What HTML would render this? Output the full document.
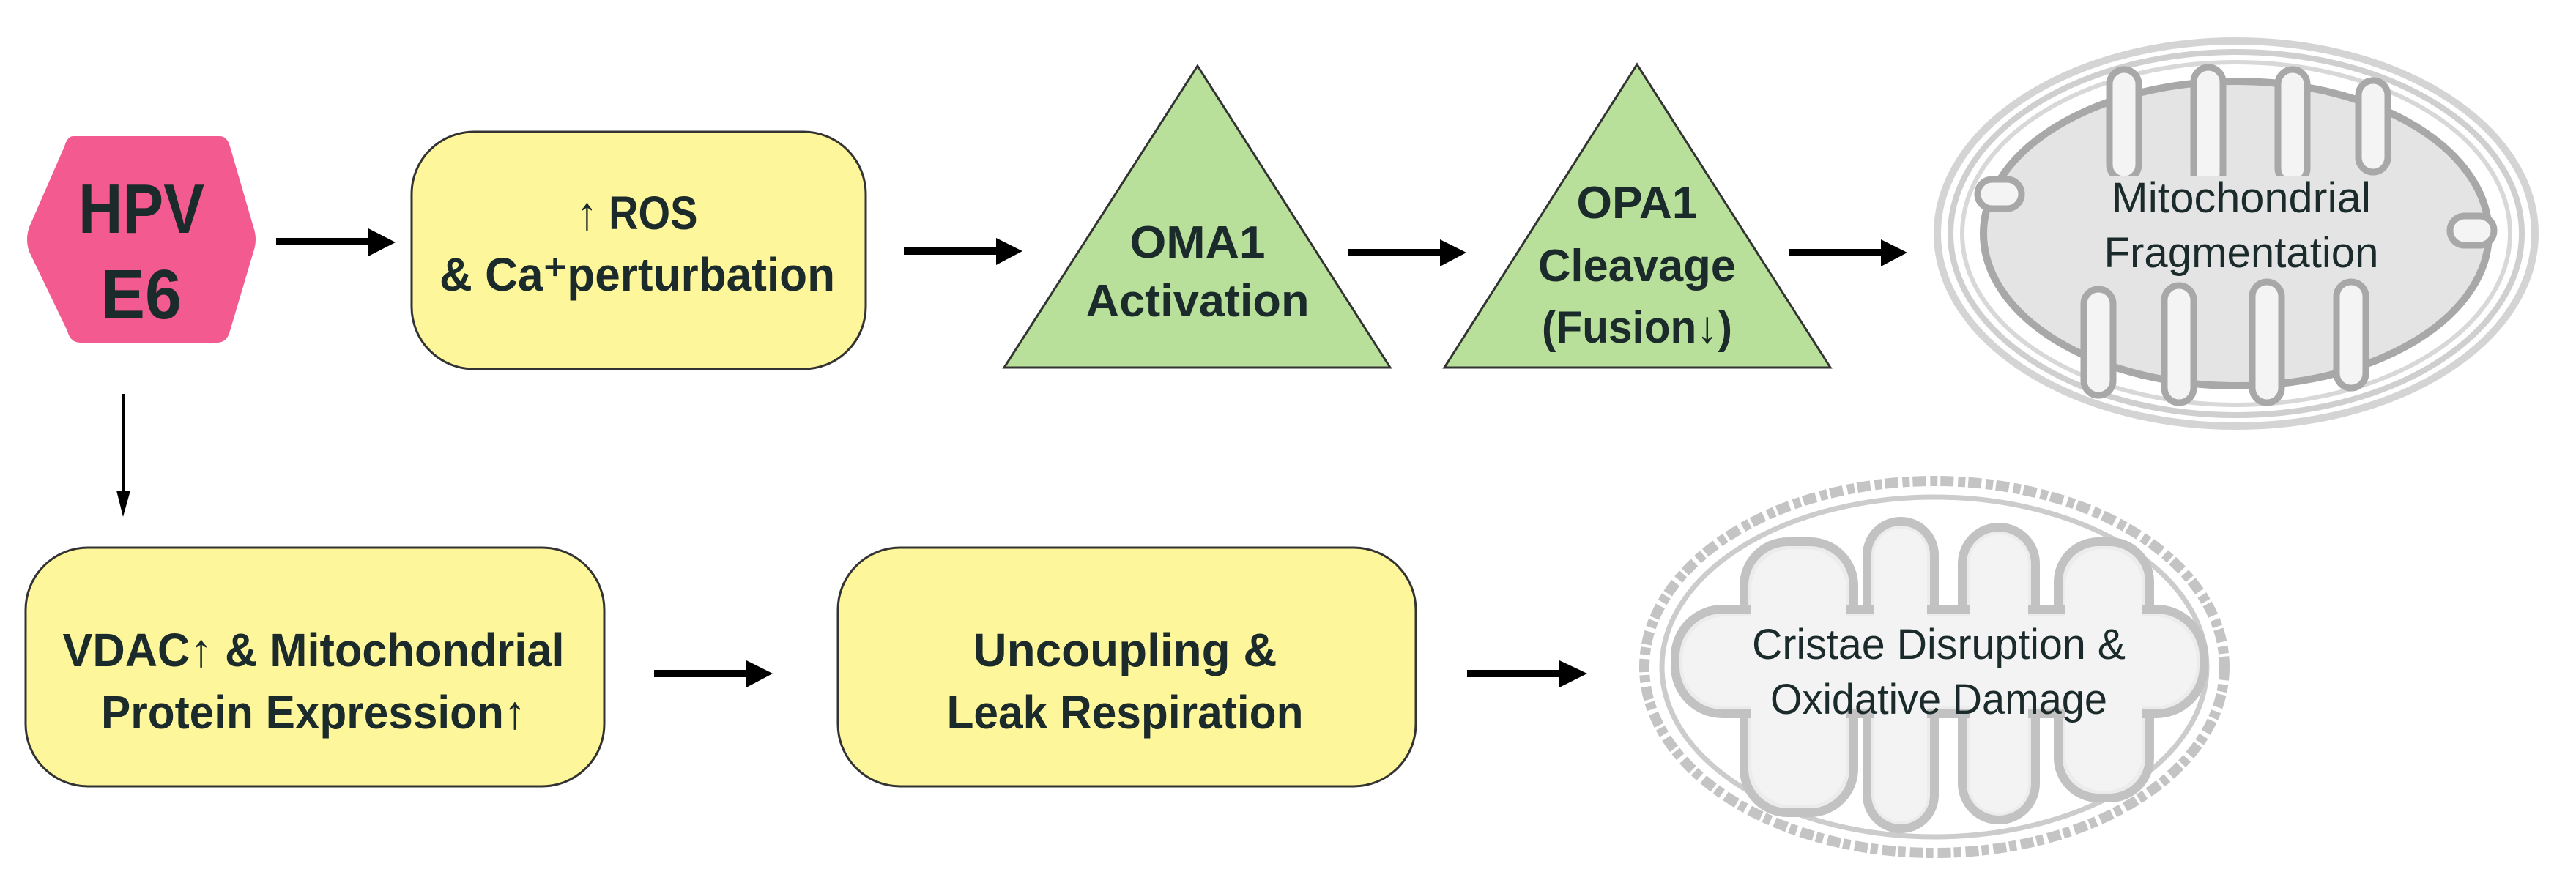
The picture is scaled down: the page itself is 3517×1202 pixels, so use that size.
<!DOCTYPE html>
<html><head><meta charset="utf-8"><style>
html,body{margin:0;padding:0;background:#fff;}
body{width:3517px;height:1197px;overflow:hidden;}
text{font-family:"Liberation Sans",sans-serif;fill:#1b2a2a;}
</style></head><body>
<svg width="3517" height="1197" viewBox="0 0 3517 1197" xmlns="http://www.w3.org/2000/svg">
<!-- hexagon -->
<path d="M100,186 L300,186 Q310,186 314,200 L346,310 Q352,327 346,344 L314,452 Q310,468 296,468 L110,468 Q96,468 92,452 L40,344 Q34,327 40,310 L88,200 Q92,186 100,186 Z" fill="#f25a90"/>
<text x="193" y="318" font-size="96" font-weight="bold" text-anchor="middle" textLength="172" lengthAdjust="spacingAndGlyphs">HPV</text>
<text x="193" y="435" font-size="96" font-weight="bold" text-anchor="middle" textLength="110" lengthAdjust="spacingAndGlyphs">E6</text>
<!-- top row boxes -->
<rect x="562" y="180" width="620" height="324" rx="85" fill="#fef69a" stroke="#333" stroke-width="3"/>
<text x="870" y="313" font-size="64" font-weight="bold" text-anchor="middle" textLength="165" lengthAdjust="spacingAndGlyphs">↑ ROS</text>
<text x="870" y="397" font-size="64" font-weight="bold" text-anchor="middle" textLength="540" lengthAdjust="spacingAndGlyphs">&amp; Ca⁺perturbation</text>
<!-- arrows -->
<g fill="#000">
<rect x="377" y="325" width="128" height="10"/><polygon points="503,312 540,331 503,350"/>
<rect x="1234" y="338" width="128" height="10"/><polygon points="1360,325 1396,343 1360,362"/>
<rect x="1840" y="340" width="128" height="10"/><polygon points="1966,327 2002,345 1966,364"/>
<rect x="2442" y="340" width="128" height="10"/><polygon points="2568,327 2604,345 2568,364"/>
<rect x="893" y="915" width="128" height="10"/><polygon points="1019,902 1055,920 1019,939"/>
<rect x="2003" y="915" width="128" height="10"/><polygon points="2129,902 2167,920 2129,939"/>
<rect x="166" y="538" width="5" height="135"/><polygon points="159,670 178,670 168,706"/>
</g>
<!-- triangles -->
<polygon points="1635,90 1898,502 1371,502" fill="#b8e09a" stroke="#333" stroke-width="3"/>
<text x="1635" y="352" font-size="62" font-weight="bold" text-anchor="middle" textLength="185" lengthAdjust="spacingAndGlyphs">OMA1</text>
<text x="1635" y="432" font-size="62" font-weight="bold" text-anchor="middle" textLength="305" lengthAdjust="spacingAndGlyphs">Activation</text>
<polygon points="2235,88 2499,502 1972,502" fill="#b8e09a" stroke="#333" stroke-width="3"/>
<text x="2235" y="298" font-size="62" font-weight="bold" text-anchor="middle" textLength="165" lengthAdjust="spacingAndGlyphs">OPA1</text>
<text x="2235" y="384" font-size="62" font-weight="bold" text-anchor="middle" textLength="270" lengthAdjust="spacingAndGlyphs">Cleavage</text>
<text x="2235" y="468" font-size="62" font-weight="bold" text-anchor="middle" textLength="260" lengthAdjust="spacingAndGlyphs">(Fusion↓)</text>
<!-- mito 1 -->
<g fill="none">
<ellipse cx="3053" cy="319" rx="408" ry="263" stroke="#d4d4d4" stroke-width="10"/>
<ellipse cx="3053" cy="319" rx="390" ry="248" stroke="#cfcfcf" stroke-width="8"/>
<ellipse cx="3053" cy="319" rx="374" ry="234" stroke="#d8d8d8" stroke-width="6"/>
</g>
<ellipse cx="3053" cy="319" rx="345" ry="208" fill="#e4e4e4" stroke="#a8a8a8" stroke-width="10"/>
<g fill="#f4f4f4" stroke="#a8a8a8" stroke-width="9">
<rect x="2880" y="95" width="40" height="150" rx="20"/>
<rect x="2995" y="92" width="40" height="165" rx="20"/>
<rect x="3110" y="95" width="40" height="155" rx="20"/>
<rect x="3220" y="110" width="40" height="125" rx="20"/>
<rect x="2845" y="395" width="40" height="145" rx="20"/>
<rect x="2955" y="390" width="40" height="160" rx="20"/>
<rect x="3075" y="385" width="40" height="165" rx="20"/>
<rect x="3190" y="385" width="40" height="145" rx="20"/>
<rect x="2700" y="245" width="60" height="40" rx="20"/>
<rect x="3345" y="295" width="60" height="40" rx="20"/>
</g>
<rect x="2820" y="240" width="480" height="140" fill="#e4e4e4"/>
<text x="3060" y="290" font-size="58" text-anchor="middle" textLength="354" lengthAdjust="spacingAndGlyphs">Mitochondrial</text>
<text x="3060" y="365" font-size="58" text-anchor="middle" textLength="375" lengthAdjust="spacingAndGlyphs">Fragmentation</text>
<!-- bottom boxes -->
<rect x="35" y="748" width="790" height="326" rx="85" fill="#fef69a" stroke="#333" stroke-width="3"/>
<text x="428" y="910" font-size="64" font-weight="bold" text-anchor="middle" textLength="685" lengthAdjust="spacingAndGlyphs">VDAC↑ &amp; Mitochondrial</text>
<text x="428" y="995" font-size="64" font-weight="bold" text-anchor="middle" textLength="580" lengthAdjust="spacingAndGlyphs">Protein Expression↑</text>
<rect x="1144" y="748" width="789" height="326" rx="85" fill="#fef69a" stroke="#333" stroke-width="3"/>
<text x="1536" y="910" font-size="64" font-weight="bold" text-anchor="middle" textLength="415" lengthAdjust="spacingAndGlyphs">Uncoupling &amp;</text>
<text x="1536" y="995" font-size="64" font-weight="bold" text-anchor="middle" textLength="487" lengthAdjust="spacingAndGlyphs">Leak Respiration</text>
<!-- mito 2 -->
<g fill="none">
<ellipse cx="2641" cy="911" rx="396" ry="254" stroke="#c4c4c4" stroke-width="14" stroke-dasharray="18 6 10 4"/>
<ellipse cx="2641" cy="911" rx="372" ry="232" stroke="#cccccc" stroke-width="7"/>
</g>
<g fill="#ececec" stroke="#c2c2c2" stroke-width="12">
<rect x="2381" y="740" width="150" height="370" rx="60"/>
<rect x="2549" y="712" width="92" height="420" rx="46"/>
<rect x="2679" y="720" width="100" height="400" rx="50"/>
<rect x="2810" y="740" width="125" height="350" rx="55"/>
<rect x="2287" y="832" width="722" height="143" rx="65"/>
</g>
<g fill="#f3f3f3">
<rect x="2391" y="750" width="130" height="350" rx="55"/>
<rect x="2559" y="722" width="72" height="400" rx="36"/>
<rect x="2689" y="730" width="80" height="380" rx="40"/>
<rect x="2820" y="750" width="105" height="330" rx="50"/>
<rect x="2297" y="842" width="702" height="123" rx="58"/>
</g>
<text x="2647" y="900" font-size="58" text-anchor="middle" textLength="510" lengthAdjust="spacingAndGlyphs">Cristae Disruption &amp;</text>
<text x="2647" y="975" font-size="58" text-anchor="middle" textLength="460" lengthAdjust="spacingAndGlyphs">Oxidative Damage</text>
</svg>
</body></html>
